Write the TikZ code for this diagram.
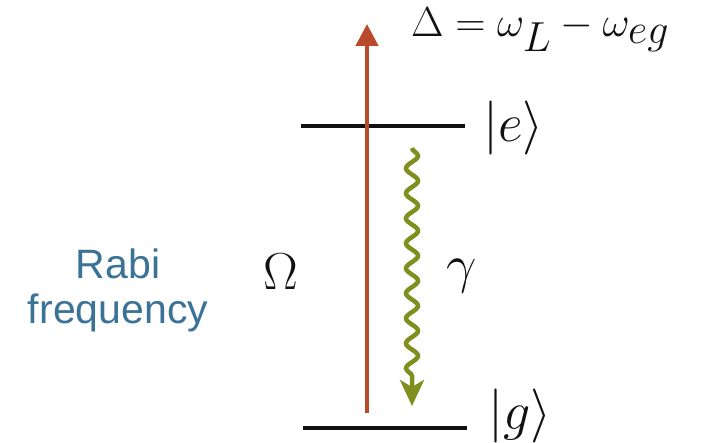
\RequirePackage{fix-cm}
\documentclass[tikz,border=0pt]{standalone}
\usepackage{amsmath,amssymb}
\usepackage{fontspec}
\newfontfamily\labfont{Liberation Sans}
\usetikzlibrary{arrows.meta,decorations.pathmorphing}
\definecolor{ink}{HTML}{111111}
\definecolor{laser}{HTML}{B84A2B}
\definecolor{olive}{HTML}{7E8F1D}
\definecolor{rabiblue}{HTML}{3B7397}
\tikzset{level/.style={line width=4.5pt,ink},
pump/.style={-{Triangle[length=22pt,width=22pt]},line width=4.5pt,laser},
decay/.style={-{Stealth[length=26pt,width=24pt,inset=7pt]},line width=4.5pt,olive,
 decorate,decoration={snake,segment length=25pt,amplitude=6pt,post length=22pt}},
ket/.style={font=\fontsize{54}{60}\selectfont,text=ink,inner sep=0pt},
lab/.style={font=\labfont\fontsize{41}{47}\selectfont,text=rabiblue,align=center}}

\begin{document}
\begin{tikzpicture}[x=1pt,y=-1pt]
\useasboundingbox (0,0) rectangle (703,443);
% energy levels
\coordinate (eL) at (301,126);
\coordinate (eR) at (465,126);
\coordinate (gL) at (303,428);
\coordinate (gR) at (467,428);
\draw[level] (eL)--(eR);
\draw[level] (gL)--(gR);
\node[ket,anchor=west] (kete) at (483,128) {$|e\rangle$};
\node[ket,anchor=west] (ketg) at (488,416) {$|g\rangle$};
% laser drive and decay
\coordinate (pumpbot) at (367,413);
\coordinate (pumptop) at (367,24);
\draw[pump] (pumpbot)--(pumptop);
\coordinate (decaytop) at (412,148);
\coordinate (decaybot) at (412,406);
\draw[decay] (decaytop)--(decaybot);
% labels
\node[ket,font=\fontsize{42}{48}\selectfont,anchor=base west] (detuning) at (411,37)
 {$\Delta=\omega_{\textstyle L}-\omega_{\textstyle eg}$};
\node[ket,font=\fontsize{52}{58}\selectfont] (omega) at (281,272) {$\Omega$};
\node[ket,font=\fontsize{54}{60}\selectfont] (gamma) at (462,276) {$\gamma$};
\node[lab] (rabi) at (118,290) {Rabi\\[-2pt]frequency};
\end{tikzpicture}
\end{document}
